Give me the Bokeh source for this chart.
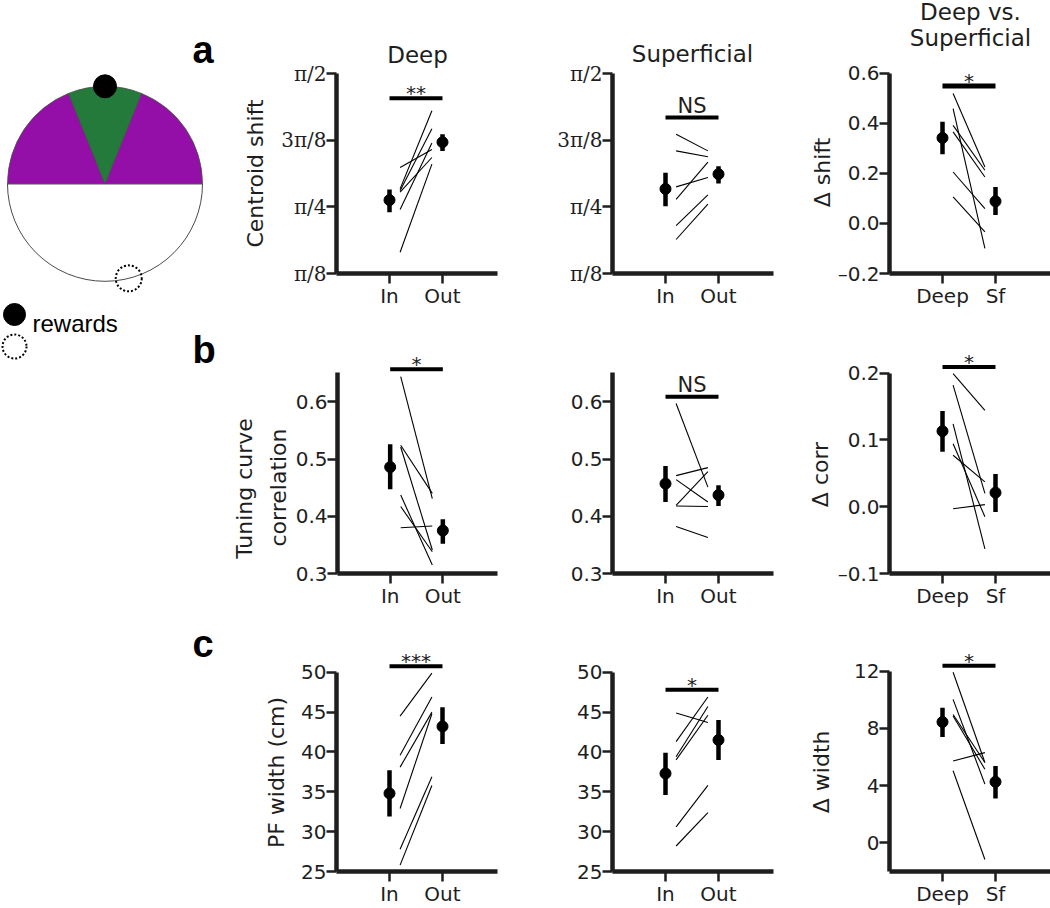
import numpy as np
from bokeh.plotting import figure
from bokeh.models import Label, FixedTicker, Plot
from bokeh.layouts import row, column
from bokeh.embed import file_html
from bokeh.resources import INLINE

# ---------------- data ----------------
# a: centroid shift (radians)
a_deep_in = [0.518, 0.891, 0.770, 0.880, 1.017, 0.872]
a_deep_out = [1.037, 1.351, 1.162, 1.245, 1.123, 1.076]
a_deep_mean = [0.825, 1.166]
a_deep_lo = [0.754, 1.115]
a_deep_hi = [0.888, 1.213]
a_deep_sig = 1.4255

a_sf_in = [1.213, 1.115, 0.829, 0.903, 0.675, 0.593]
a_sf_out = [1.115, 1.080, 1.049, 0.958, 0.856, 0.801]
a_sf_mean = [0.891, 0.978]
a_sf_lo = [0.789, 0.923]
a_sf_hi = [0.986, 1.025]
a_sf_sig = 1.3116

a_d_deep = [0.518, 0.458, 0.391, 0.365, 0.205, 0.106]
a_d_sf = [0.225, -0.100, 0.212, 0.185, 0.059, -0.034]
a_d_mean = [0.341, 0.088]
a_d_lo = [0.276, 0.033]
a_d_hi = [0.405, 0.145]
a_d_sig = 0.548

# b: tuning curve correlation
b_deep_in = [0.644, 0.524, 0.521, 0.437, 0.417, 0.380]
b_deep_out = [0.431, 0.440, 0.341, 0.315, 0.338, 0.383]
b_deep_mean = [0.486, 0.375]
b_deep_lo = [0.447, 0.352]
b_deep_hi = [0.526, 0.395]
b_deep_sig = 0.657

b_sf_in = [0.597, 0.471, 0.464, 0.419, 0.418, 0.382]
b_sf_out = [0.451, 0.485, 0.425, 0.478, 0.417, 0.363]
b_sf_mean = [0.457, 0.437]
b_sf_lo = [0.425, 0.418]
b_sf_hi = [0.488, 0.454]
b_sf_sig = 0.609

b_d_deep = [0.199, 0.182, 0.124, 0.094, 0.077, -0.003]
b_d_sf = [0.144, 0.020, -0.063, -0.015, 0.037, 0.003]
b_d_mean = [0.113, 0.021]
b_d_lo = [0.082, -0.008]
b_d_hi = [0.143, 0.049]
b_d_sig = 0.209

# c: place-field width (cm)
c_deep_in = [44.5, 39.6, 38.1, 32.9, 27.8, 25.8]
c_deep_out = [49.9, 46.9, 45.0, 44.8, 36.9, 35.8]
c_deep_mean = [34.8, 43.2]
c_deep_lo = [31.9, 41.0]
c_deep_hi = [37.7, 45.6]
c_deep_sig = 50.75

c_sf_in = [44.9, 41.3, 39.4, 39.0, 30.6, 28.2]
c_sf_out = [43.7, 46.9, 45.7, 44.6, 35.8, 32.4]
c_sf_mean = [37.3, 41.5]
c_sf_lo = [34.6, 39.0]
c_sf_hi = [39.9, 44.0]
c_sf_sig = 47.8

c_d_deep = [11.93, 10.03, 8.98, 8.87, 5.73, 5.04]
c_d_sf = [5.62, 4.11, 5.62, 5.15, 6.31, -1.16]
c_d_mean = [8.45, 4.27]
c_d_lo = [7.40, 3.11]
c_d_hi = [9.45, 5.38]
c_d_sig = 12.39

# tick labels
inout_labels = ["In", "Out"]
dsf_labels = ["Deep", "Sf"]
pi_ticks = [np.pi / 8, np.pi / 4, 3 * np.pi / 8, np.pi / 2]
pi_labels = ["π/8", "π/4", "3π/8", "π/2"]
ashift_ticks = [-0.2, 0.0, 0.2, 0.4, 0.6]
ashift_labels = ["–0.2", "0.0", "0.2", "0.4", "0.6"]
corr_ticks = [0.3, 0.4, 0.5, 0.6]
corr_labels = ["0.3", "0.4", "0.5", "0.6"]
dcorr_ticks = [-0.1, 0.0, 0.1, 0.2]
dcorr_labels = ["–0.1", "0.0", "0.1", "0.2"]
width_ticks = [25, 30, 35, 40, 45, 50]
width_labels = ["25", "30", "35", "40", "45", "50"]
dwidth_ticks = [0, 4, 8, 12]
dwidth_labels = ["0", "4", "8", "12"]

# ---------------- layout geometry (pixels of the page) ----------------
INK = "#1e1e1e"
FONT = "DejaVu Sans"
PPX = 53.0                      # px per category unit
FRAME_W = 161                   # visible axis width
STRIP_W = 230                   # schematic / panel-letter strip
COL1_X0 = {"a": 272, "b": 292, "c": 292}
ROWS = {"a": dict(h=333, b=60, y0img=0),
        "b": dict(h=279, b=39, y0img=333),
        "c": dict(h=296, b=36, y0img=612)}
COL2_X0, COL3_X0 = 512, 834
HAS_FRAME_ALIGN = "frame_align" in Plot.properties()


def no_align(f):
    if HAS_FRAME_ALIGN:
        f.frame_align = False
    return f


def col_geom(col, rk):
    if col == 1:
        x0 = COL1_X0[rk]
        return dict(x0img=x0, w=COL2_X0 - x0, l=336 - x0, r=15)
    if col == 2:
        return dict(x0img=COL2_X0, w=COL3_X0 - COL2_X0, l=100, r=0)
    return dict(x0img=COL3_X0, w=1050 - COL3_X0, l=889 - COL3_X0, r=0)


def panel(col, rk, ystart, ppu, yticks, ylabels, ybounds, xlabels,
          ins, outs, mean, lo, hi, sig_y, sig_text, sig_w=4.0,
          ytfont=FONT, ytsize="20px"):
    c = col_geom(col, rk)
    r = ROWS[rk]
    fw = c["w"] - c["l"] - c["r"]
    fh = r["h"] - r["b"]
    xs = -1.0
    xe = xs + fw / PPX
    ye = ystart + fh / ppu
    p = figure(width=c["w"], height=r["h"], x_range=(xs, xe), y_range=(ystart, ye),
               output_backend="svg", toolbar_location=None, title=None,
               min_border_left=c["l"], min_border_right=c["r"],
               min_border_top=0, min_border_bottom=r["b"])
    p.grid.visible = False
    p.outline_line_color = None
    for ax in (p.xaxis[0], p.yaxis[0]):
        ax.axis_line_width = 4.5
        ax.axis_line_color = INK
        ax.major_tick_line_width = 2.5
        ax.major_tick_line_color = INK
        ax.major_tick_in = 0
        ax.major_tick_out = 10
        ax.minor_tick_line_color = None
        ax.major_label_text_font = FONT
        ax.major_label_text_font_size = "20px"
        ax.major_label_text_color = INK
        ax.major_label_standoff = 0
    p.xaxis.ticker = FixedTicker(ticks=[0, 1])
    p.xaxis.major_label_overrides = {0: xlabels[0], 1: xlabels[1]}
    p.xaxis.bounds = (xs, xs + FRAME_W / PPX)
    p.yaxis.ticker = FixedTicker(ticks=list(yticks))
    p.yaxis.major_label_overrides = {t: s for t, s in zip(yticks, ylabels)}
    p.yaxis.bounds = ybounds
    p.yaxis.major_label_text_font = ytfont
    p.yaxis.major_label_text_font_size = ytsize

    n = len(ins)
    p.segment(x0=[0.2] * n, y0=ins, x1=[0.8] * n, y1=outs, line_color="black", line_width=1.1)
    p.segment(x0=[0, 1], y0=lo, x1=[0, 1], y1=hi, line_color="black", line_width=4.5)
    p.scatter(x=[0, 1], y=mean, size=11, color="black")
    p.segment(x0=[0], y0=[sig_y], x1=[1], y1=[sig_y], line_color="black", line_width=sig_w)
    if sig_text == "NS":
        p.add_layout(Label(x=0.5, y=sig_y, text="NS", text_align="center",
                           text_baseline="middle", y_offset=12, text_font=FONT,
                           text_font_size="21px", text_color=INK))
    else:
        p.add_layout(Label(x=0.5, y=sig_y, text=sig_text, text_align="center",
                           text_baseline="middle", y_offset=5, text_font=FONT,
                           text_font_size="20px", text_color=INK))

    fl = c["x0img"] + c["l"]
    fb = r["y0img"] + r["h"] - r["b"]
    p._dx = lambda ix: xs + (ix - fl) / PPX
    p._dy = lambda iy: ystart + (fb - iy) / ppu
    return no_align(p)


def add_text(p, ix, iy, text, size="23px", angle=0.0):
    p.add_layout(Label(x=p._dx(ix), y=p._dy(iy), text=text, angle=angle,
                       text_align="center", text_baseline="middle",
                       text_font=FONT, text_font_size=size, text_color=INK))


PPU_PI = 200.0 / (3 * np.pi / 8)

a1 = panel(1, "a", np.pi / 8, PPU_PI, pi_ticks, pi_labels, (np.pi / 8, np.pi / 2), inout_labels,
           a_deep_in, a_deep_out, a_deep_mean, a_deep_lo, a_deep_hi, a_deep_sig, "**",
           ytfont="DejaVu Serif")
a2 = panel(2, "a", np.pi / 8, PPU_PI, pi_ticks, pi_labels, (np.pi / 8, np.pi / 2), inout_labels,
           a_sf_in, a_sf_out, a_sf_mean, a_sf_lo, a_sf_hi, a_sf_sig, "NS",
           ytfont="DejaVu Serif")
a3 = panel(3, "a", -0.2, 200.5 / 0.8, ashift_ticks, ashift_labels, (-0.2, 0.6), dsf_labels,
           a_d_deep, a_d_sf, a_d_mean, a_d_lo, a_d_hi, a_d_sig, "*", sig_w=5.0)

b1 = panel(1, "b", 0.3, 171.7 / 0.3, corr_ticks, corr_labels, (0.3, 0.652), inout_labels,
           b_deep_in, b_deep_out, b_deep_mean, b_deep_lo, b_deep_hi, b_deep_sig, "*")
b2 = panel(2, "b", 0.3, 171.7 / 0.3, corr_ticks, corr_labels, (0.3, 0.652), inout_labels,
           b_sf_in, b_sf_out, b_sf_mean, b_sf_lo, b_sf_hi, b_sf_sig, "NS")
b3 = panel(3, "b", -0.1, 200.5 / 0.3, dcorr_ticks, dcorr_labels, (-0.1, 0.2), dsf_labels,
           b_d_deep, b_d_sf, b_d_mean, b_d_lo, b_d_hi, b_d_sig, "*")

c1 = panel(1, "c", 25, 8.0, width_ticks, width_labels, (25, 50), inout_labels,
           c_deep_in, c_deep_out, c_deep_mean, c_deep_lo, c_deep_hi, c_deep_sig, "***")
c2 = panel(2, "c", 25, 8.0, width_ticks, width_labels, (25, 50), inout_labels,
           c_sf_in, c_sf_out, c_sf_mean, c_sf_lo, c_sf_hi, c_sf_sig, "*")
c3 = panel(3, "c", -2, 14.36, dwidth_ticks, dwidth_labels, (-2, 12), dsf_labels,
           c_d_deep, c_d_sf, c_d_mean, c_d_lo, c_d_hi, c_d_sig, "*")

# column titles
add_text(a1, 417, 54, "Deep")
add_text(a2, 692, 53, "Superficial")
add_text(a3, 970, 11, "Deep vs.")
add_text(a3, 970, 37, "Superficial")

# y-axis titles of the right-hand column (in the free space left of those axes)
add_text(a2, 822, 172, "Δ shift", size="22px", angle=np.pi / 2)
add_text(b2, 820, 474, "Δ corr", size="22px", angle=np.pi / 2)
add_text(c2, 821, 772, "Δ width", size="22px", angle=np.pi / 2)


# ---------------- y-title figures of the left-hand column ----------------
def title_fig(rk):
    r = ROWS[rk]
    w = COL1_X0[rk] - STRIP_W
    fh = r["h"] - r["b"]
    f = figure(width=w, height=r["h"], x_range=(STRIP_W, STRIP_W + w), y_range=(0, fh),
               output_backend="svg", toolbar_location=None, title=None,
               x_axis_location=None, y_axis_location=None,
               min_border_left=0, min_border_right=0, min_border_top=0,
               min_border_bottom=r["b"])
    f.grid.visible = False
    f.outline_line_color = None
    f._Y = lambda iy: r["y0img"] + fh - iy
    return no_align(f)


def ytitle(f, ix, iy, text):
    f.add_layout(Label(x=ix, y=f._Y(iy), text=text, angle=np.pi / 2, text_align="center",
                       text_baseline="middle", text_font=FONT, text_font_size="22px",
                       text_color=INK))


ta, tb, tc = title_fig("a"), title_fig("b"), title_fig("c")
ytitle(ta, 255, 173, "Centroid shift")
ytitle(tb, 244, 488, "Tuning curve")
ytitle(tb, 278, 487, "correlation")
ytitle(tc, 276, 772, "PF width (cm)")

# ---------------- strip: schematic, legend, panel letters ----------------
H = 908
strip = figure(width=STRIP_W, height=H, x_range=(0, STRIP_W), y_range=(0, H),
               output_backend="svg", toolbar_location=None, title=None,
               x_axis_location=None, y_axis_location=None, min_border=0)
strip.grid.visible = False
strip.outline_line_color = None
no_align(strip)

CX, CY, R = 104.5, H - 183.3, 97.5       # track centre and radius (px)
HALF = np.deg2rad(22)                    # half-width of reward-zone wedge
PURPLE = "#930fa8"
GREEN = "#237a3b"
EDGE = "#4a4a4a"
strip.wedge(x=CX, y=CY, radius=R, start_angle=np.pi, end_angle=2 * np.pi,
            fill_color="white", line_color=EDGE, line_width=1)
strip.wedge(x=CX, y=CY, radius=R, start_angle=0, end_angle=np.pi / 2 - HALF,
            fill_color=PURPLE, line_color=EDGE, line_width=0.8)
strip.wedge(x=CX, y=CY, radius=R, start_angle=np.pi / 2 + HALF, end_angle=np.pi,
            fill_color=PURPLE, line_color=EDGE, line_width=0.8)
strip.wedge(x=CX, y=CY, radius=R, start_angle=np.pi / 2 - HALF, end_angle=np.pi / 2 + HALF,
            fill_color=GREEN, line_color=EDGE, line_width=0.8)
strip.circle(x=[CX], y=[CY + R], radius=11.5, fill_color="black", line_color="black")
ang = np.deg2rad(-75.9)
strip.circle(x=[CX + R * np.cos(ang)], y=[CY + R * np.sin(ang)], radius=13,
             fill_color=None, line_color="black", line_width=2, line_dash="2 2")
# legend
strip.circle(x=[14], y=[H - 314], radius=11, fill_color="black", line_color="black")
strip.circle(x=[14], y=[H - 346], radius=12, fill_color=None, line_color="black",
             line_width=2, line_dash="2 2")
strip.add_layout(Label(x=32, y=H - 323, text="rewards", text_align="left", text_baseline="middle",
                       text_font="Liberation Sans", text_font_size="24px", text_color="black"))
# panel letters
for txt, yy in (("a", 49), ("b", 349), ("c", 643)):
    strip.add_layout(Label(x=192, y=H - yy, text=txt, text_align="left", text_baseline="middle",
                           text_font="Liberation Sans", text_font_style="bold",
                           text_font_size="38px", text_color="black"))

panels = column(row(ta, a1, a2, a3), row(tb, b1, b2, b3), row(tc, c1, c2, c3))
layout = row(strip, panels)
open("out.html", "w").write(file_html(layout, INLINE, title="Centroid shift figure"))
